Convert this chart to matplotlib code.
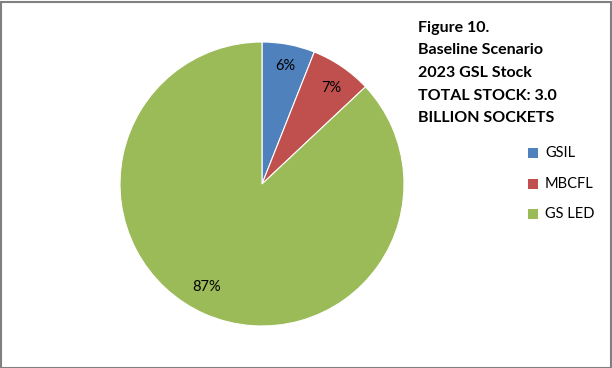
import matplotlib
matplotlib.use("Agg")
import matplotlib.pyplot as plt
from matplotlib.patches import Rectangle

categories = ["GSIL", "MBCFL", "GS LED"]
values = [6, 7, 87]
colors = ["#4F81BD", "#C0504D", "#9BBB59"]
title_lines = ["Figure 10.", "Baseline Scenario", "2023 GSL Stock",
               "TOTAL STOCK: 3.0", "BILLION SOCKETS"]

W, H = 612, 368
fig = plt.figure(figsize=(W / 100, H / 100), dpi=100)
plt.rcParams['font.family'] = ['Lato', 'DejaVu Sans']

cx, cy, r = 262, 184, 142
ax = fig.add_axes([(cx - r) / W, (H - cy - r) / H, 2 * r / W, 2 * r / H])
wedges, texts, autotexts = ax.pie(
    values, colors=colors, startangle=90, counterclock=False,
    autopct=lambda p: f"{p:.0f}%", pctdistance=0.82,
    wedgeprops=dict(edgecolor="white", linewidth=0.8),
    textprops=dict(fontsize=10.5, color="black"))
pos = [(285, 66), (331, 88), (207, 287)]
for t, (x, y) in zip(autotexts, pos):
    t.set_position(((x - cx) / r, -(y - cy) / r))
    t.set_ha("center"); t.set_va("center")
ax.set_xlim(-1, 1); ax.set_ylim(-1, 1)
ax.set_aspect("equal")
ax.axis("off")

# title
for i, line in enumerate(title_lines):
    fig.text(418 / W, 1 - (28 + 22.5 * i) / H, line, ha="left", va="center",
             fontsize=11.5, fontweight="bold")

# legend
leg_y = [153, 184, 214]
for c, lab, y in zip(colors, categories, leg_y):
    fig.patches.append(Rectangle(((533 - 5) / W, 1 - (y + 5) / H), 10 / W, 10 / H,
                                 transform=fig.transFigure, facecolor=c,
                                 edgecolor="none"))
    fig.text(545 / W, 1 - y / H, lab, ha="left", va="center", fontsize=10.5)

# border
fig.patches.append(Rectangle((0.5 / W, 0.5 / H), 1 - 2 / W, 1 - 2 / H,
                             transform=fig.transFigure, fill=False,
                             edgecolor="#808080", linewidth=1.5))

fig.savefig("out.png", dpi=100)
